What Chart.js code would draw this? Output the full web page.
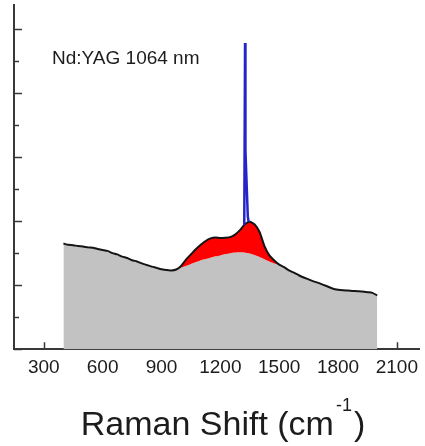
<!DOCTYPE html>
<html>
<head>
<meta charset="utf-8">
<script src="https://cdn.jsdelivr.net/npm/chart.js@4.4.1/dist/chart.umd.min.js"></script>
<style>
  html, body { margin: 0; padding: 0; background: #ffffff; }
  #wrap { width: 425px; height: 446px; }
</style>
</head>
<body>
<div id="wrap"><canvas id="spectrum" width="425" height="446"></canvas></div>
<script>
// Raman shift grid (cm-1)
const shift = [
  400, 425, 450, 475, 500, 525, 550, 575, 600, 625, 650, 675, 700, 725, 750, 775,
  800, 825, 850, 875, 900, 925, 950, 975, 1000, 1025, 1050, 1075, 1100, 1125, 1150, 1175,
  1200, 1225, 1250, 1275, 1300, 1325, 1350, 1375, 1400, 1425, 1450, 1475, 1500, 1525, 1550, 1575,
  1600, 1625, 1650, 1675, 1700, 1725, 1750, 1775, 1800, 1825, 1850, 1875, 1900, 1925, 1950, 1975, 2000
];
// measured spectrum (black trace)
const totalSignal = [
  3.30, 3.26, 3.25, 3.22, 3.21, 3.18, 3.17, 3.13, 3.10, 3.07, 3.00, 2.96, 2.89, 2.85, 2.78, 2.74,
  2.68, 2.63, 2.58, 2.54, 2.50, 2.47, 2.46, 2.49, 2.60, 2.80, 2.96, 3.12, 3.26, 3.38, 3.46, 3.49,
  3.47, 3.48, 3.50, 3.58, 3.72, 3.90, 3.98, 3.90, 3.66, 3.22, 2.93, 2.77, 2.64, 2.56, 2.46, 2.39,
  2.31, 2.24, 2.18, 2.12, 2.07, 2.01, 1.95, 1.89, 1.86, 1.84, 1.83, 1.82, 1.81, 1.80, 1.78, 1.76, 1.68
];
// fluorescence background (grey)
const background = [
  3.30, 3.26, 3.25, 3.22, 3.21, 3.18, 3.17, 3.13, 3.10, 3.07, 3.00, 2.96, 2.89, 2.85, 2.78, 2.74,
  2.68, 2.63, 2.58, 2.54, 2.50, 2.47, 2.46, 2.49, 2.55, 2.60, 2.66, 2.72, 2.78, 2.82, 2.86, 2.90,
  2.93, 2.97, 3.00, 3.02, 3.03, 3.02, 2.99, 2.94, 2.88, 2.81, 2.74, 2.68, 2.64, 2.56, 2.46, 2.39,
  2.31, 2.24, 2.18, 2.12, 2.07, 2.01, 1.95, 1.89, 1.86, 1.84, 1.83, 1.82, 1.81, 1.80, 1.78, 1.76, 1.68
];
// sharp diamond line (blue)
const peakShift = [1322, 1326, 1328, 1340, 1344];
const peakSignal = [3.88, 9.56, 6.20, 4.15, 3.98];

const xTicks = [300, 600, 900, 1200, 1500, 1800, 2100];
const yTicks = [0, 1, 2, 3, 4, 5, 6, 7, 8, 9, 10];
const laserLabel = 'Nd:YAG 1064 nm';
const axisTitle = { main: 'Raman Shift (cm', sup: '-1', close: ')' };

const FONT = "'Liberation Sans', Arial, Helvetica, sans-serif";
const AXIS_COLOR = '#383838';
const TEXT_COLOR = '#1c1c1c';

const toPoints = (xs, ys) => xs.map((x, i) => ({ x, y: ys[i] }));

// inward tick marks, drawn under the filled spectrum
const tickMarks = {
  id: 'tickMarks',
  beforeDatasetsDraw(chart) {
    const { ctx, chartArea, scales } = chart;
    ctx.save();
    ctx.strokeStyle = AXIS_COLOR;
    ctx.lineWidth = 1.5;
    ctx.beginPath();
    scales.y.ticks.forEach(t => {
      const py = Math.round(scales.y.getPixelForValue(t.value)) + 0.5;
      const len = t.value % 2 === 0 ? 8 : 5;
      ctx.moveTo(chartArea.left, py);
      ctx.lineTo(chartArea.left + len, py);
    });
    scales.x.ticks.forEach(t => {
      const px = Math.round(scales.x.getPixelForValue(t.value)) + 0.5;
      ctx.moveTo(px, chartArea.bottom);
      ctx.lineTo(px, chartArea.bottom - 7);
    });
    ctx.stroke();
    ctx.restore();
  },
  afterDraw(chart) {
    const { ctx } = chart;
    ctx.save();
    ctx.fillStyle = TEXT_COLOR;
    ctx.textBaseline = 'alphabetic';
    ctx.textAlign = 'left';
    ctx.font = `19px ${FONT}`;
    ctx.fillText(laserLabel, 52, 64);

    // axis title with superscript unit
    const mainFont = `34px ${FONT}`;
    const supFont = `18px ${FONT}`;
    ctx.font = mainFont;
    const w1 = ctx.measureText(axisTitle.main).width;
    ctx.font = supFont;
    const w2 = ctx.measureText(axisTitle.sup).width;
    ctx.font = mainFont;
    const w3 = ctx.measureText(axisTitle.close).width;
    const total = w1 + 2 + w2 + 2 + w3;
    let x = 223 - total / 2;
    const base = 435;
    ctx.fillText(axisTitle.main, x, base);
    x += w1 + 2;
    ctx.font = supFont;
    ctx.fillText(axisTitle.sup, x, base - 24);
    x += w2 + 2;
    ctx.font = mainFont;
    ctx.fillText(axisTitle.close, x, base);
    ctx.restore();
  }
};

new Chart(document.getElementById('spectrum'), {
  type: 'line',
  data: {
    datasets: [
      {
        label: 'background',
        data: toPoints(shift, background),
        borderWidth: 0,
        borderColor: 'rgba(0,0,0,0)',
        backgroundColor: '#c2c2c2',
        fill: { value: -0.06 },
        pointRadius: 0,
        tension: 0.2,
        clip: 4,
        order: 3
      },
      {
        label: 'spectrum',
        data: toPoints(shift, totalSignal),
        borderWidth: 2,
        borderColor: '#141414',
        backgroundColor: '#ff0000',
        fill: { target: 0, above: '#ff0000', below: '#ff0000' },
        pointRadius: 0,
        tension: 0.2,
        order: 2
      },
      {
        label: 'diamond',
        data: toPoints(peakShift, peakSignal),
        borderWidth: 2.5,
        borderColor: '#2424c8',
        fill: false,
        pointRadius: 0,
        tension: 0,
        order: 1
      }
    ]
  },
  options: {
    responsive: false,
    animation: false,
    devicePixelRatio: 1,
    layout: { padding: { left: 14, top: 5, right: 0, bottom: 60 } },
    plugins: { legend: { display: false }, tooltip: { enabled: false } },
    scales: {
      x: {
        type: 'linear',
        min: 148,
        max: 2214,
        afterBuildTicks: s => { s.ticks = xTicks.map(v => ({ value: v })); },
        ticks: {
          autoSkip: false,
          maxRotation: 0,
          padding: 7,
          color: TEXT_COLOR,
          font: { family: FONT, size: 19 },
          callback: v => String(v)
        },
        grid: { display: true, drawOnChartArea: false, drawTicks: false },
        border: { display: true, color: AXIS_COLOR, width: 2 }
      },
      y: {
        type: 'linear',
        min: 0,
        max: 10.75,
        afterBuildTicks: s => { s.ticks = yTicks.map(v => ({ value: v })); },
        ticks: { display: false },
        grid: { display: true, drawOnChartArea: false, drawTicks: false },
        border: { display: true, color: AXIS_COLOR, width: 2 }
      }
    }
  },
  plugins: [tickMarks]
});
</script>
</body>
</html>
